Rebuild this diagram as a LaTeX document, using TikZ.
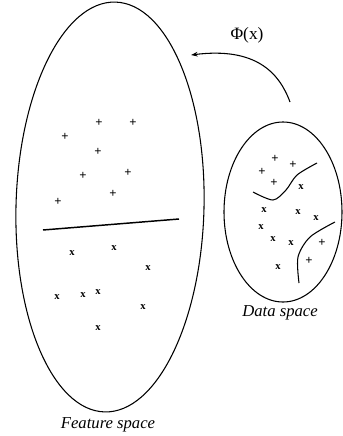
\documentclass[tikz,border=0pt]{standalone}
\usepackage{fontspec}
\setmainfont{Liberation Serif}
\usetikzlibrary{arrows.meta}

\begin{document}
\begin{tikzpicture}[x=0.75pt,y=-0.75pt,line width=0.8pt,
  >={Stealth[length=5pt,width=3.5pt]},
  plusmark/.style={inner sep=0pt,font=\bfseries\fontsize{9.5}{9.5}\selectfont},
  crossmark/.style={inner sep=0pt,font=\bfseries\fontsize{8}{8}\selectfont},
  spacelabel/.style={inner sep=0pt,font=\itshape\fontsize{12.5}{14}\selectfont}]
\useasboundingbox (0,0) rectangle (343,436);
% feature space
\draw[rotate around={-1.5:(110,207)}] (110,207) ellipse (94 and 205);
\node[spacelabel] (featlabel) at (108,425) {Feature space};
\foreach \p [count=\i] in {(99,123),(133,123),(65,137),(98,152),(83,176),(128,173),(113,194),(58,202)}
  \node[plusmark] (fp\i) at \p {+};
\foreach \p [count=\i] in {(72,253),(114,248),(148,268),(57,297),(83,295),(98,292),(143,307),(98,328)}
  \node[crossmark] (fx\i) at \p {x};
\coordinate (sepa) at (43,230);
\coordinate (sepb) at (179,219);
\draw[line width=1.1pt] (sepa) -- (sepb);
% data space
\draw (283,212) ellipse (59 and 90);
\node[spacelabel] (datalabel) at (280,313) {Data space};
\foreach \p [count=\i] in {(275,159),(293,165),(262,172),(274,183),(322,243),(309,261)}
  \node[plusmark] (dp\i) at \p {+};
\foreach \p [count=\i] in {(301,187),(264,210),(298,212),(316,218),(261,227),(273,239),(291,243),(278,267)}
  \node[crossmark] (dx\i) at \p {x};
\draw plot[smooth] coordinates {(253,192) (273,200) (286,190) (297,175) (317,163)};
\draw plot[smooth] coordinates {(335,222) (310,237) (298,257) (299,283)};
% mapping
\coordinate (phistart) at (290,102);
\coordinate (phiend) at (191,55);
\draw[->] (phistart) .. controls (279,72) and (255,47) .. (phiend);
\node[inner sep=0pt,font=\fontsize{13}{14}\selectfont] (philabel) at (247,35) {Φ(x)};
\end{tikzpicture}
\end{document}
